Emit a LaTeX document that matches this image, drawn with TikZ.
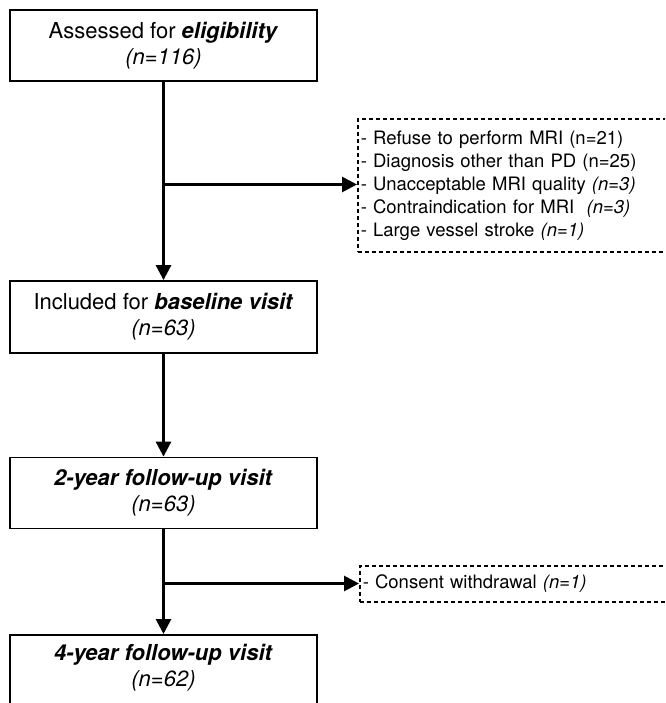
\documentclass[tikz,border=0pt]{standalone}
\usepackage{fontspec}
\setmainfont{TeX Gyre Heros}
\usepackage{tikz}
\usetikzlibrary{arrows.meta,positioning}

\begin{document}
\begin{tikzpicture}[
    x=1pt, y=-1pt,
    box/.style={draw, line width=1.8pt, minimum width=307pt, minimum height=71pt, align=center,
        font=\fontsize{22}{26}\selectfont, inner sep=0pt},
    excl/.style={draw, dashed, dash pattern=on 4pt off 3pt, line width=1.5pt, anchor=west,
        minimum width=340pt, align=left, text width=334pt, inner xsep=3pt,
        font=\fontsize{18.5}{23}\selectfont},
    arrow/.style={-{Triangle[length=15pt,width=15pt]}, line width=2.8pt}
]
\useasboundingbox (0,0) rectangle (665,703);
\clip (0,0) rectangle (665,703);
\node[box] (screen) at (163.5,45.5) {Assessed for \textbf{\textit{eligibility}}\\\textit{(n=116)}};
\node[box, minimum height=72pt] (base) at (163.5,317) {Included for \textbf{\textit{baseline visit}}\\\textit{(n=63)}};
\node[box] (fu2) at (163.5,493) {\textbf{\textit{2-year follow-up visit}}\\\textit{(n=63)}};
\node[box, anchor=north, minimum height=90pt, text depth=30pt] (fu4) at (163.5,634) {\textbf{\textit{4-year follow-up visit}}\\\textit{(n=62)}};
\node[excl, minimum height=133pt] (drop1) at (357,185.5) {- Refuse to perform MRI (n=21)\\- Diagnosis other than PD (n=25)\\- Unacceptable MRI quality \textit{(n=3)}\\- Contraindication for MRI \ \textit{(n=3)}\\- Large vessel stroke \textit{(n=1)}};
\node[excl, minimum height=36pt] (drop2) at (359,584) {- Consent withdrawal \textit{(n=1)}};
% branch points
\coordinate (b1) at (163.5,184.5);
\coordinate (b2) at (163.5,583.5);
\draw[arrow] (screen) -- (base);
\draw[arrow] (base) -- (fu2);
\draw[arrow] (fu2) -- (fu4);
\draw[arrow] (b1) -- (drop1.west |- b1);
\draw[arrow] (b2) -- (drop2.west |- b2);
\end{tikzpicture}
\end{document}
